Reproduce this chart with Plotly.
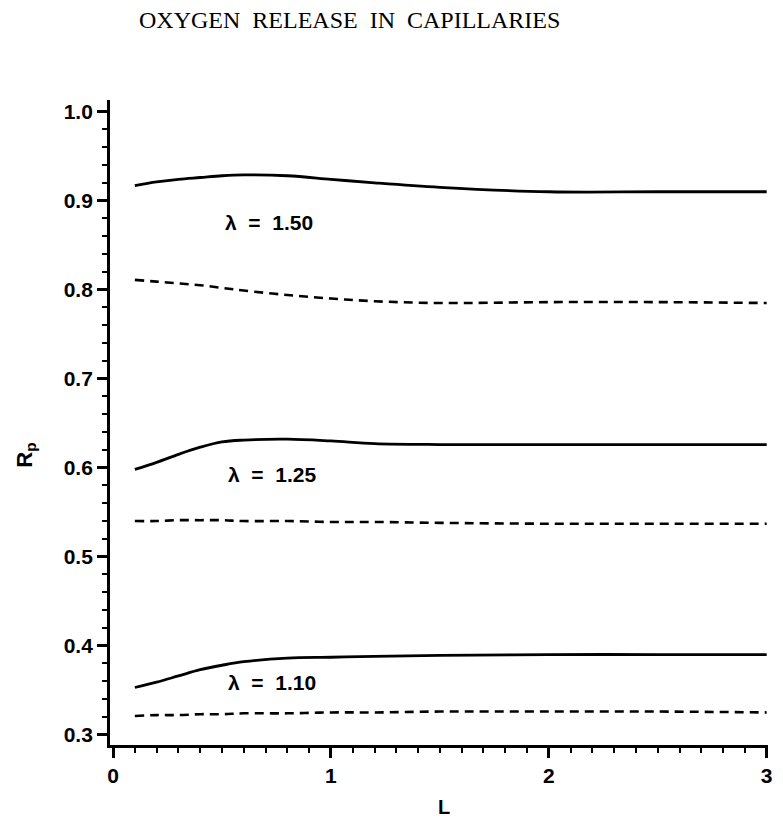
import plotly.graph_objects as go

L = [0.1, 0.2, 0.3, 0.4, 0.5, 0.6, 0.8, 1.0, 1.2, 1.5, 2.0, 2.5, 3.0]
solid_150 = [0.917, 0.921, 0.924, 0.926, 0.928, 0.929, 0.928, 0.924, 0.920, 0.915, 0.910, 0.910, 0.910]
dash_150 = [0.811, 0.809, 0.807, 0.805, 0.802, 0.799, 0.794, 0.790, 0.787, 0.785, 0.786, 0.786, 0.785]
solid_125 = [0.598, 0.606, 0.615, 0.623, 0.629, 0.631, 0.632, 0.630, 0.627, 0.626, 0.626, 0.626, 0.626]
dash_125 = [0.540, 0.540, 0.541, 0.541, 0.541, 0.540, 0.540, 0.539, 0.539, 0.538, 0.537, 0.537, 0.537]
solid_110 = [0.353, 0.359, 0.366, 0.373, 0.378, 0.382, 0.386, 0.387, 0.388, 0.389, 0.390, 0.390, 0.390]
dash_110 = [0.321, 0.322, 0.322, 0.323, 0.323, 0.324, 0.324, 0.325, 0.325, 0.326, 0.326, 0.326, 0.325]

labels = ["λ = 1.50", "λ = 1.25", "λ = 1.10"]
label_x = [0.715, 0.731, 0.731]
label_y = [0.875, 0.592, 0.359]
y_ticks = [0.3, 0.4, 0.5, 0.6, 0.7, 0.8, 0.9, 1.0]
x_ticks = [0, 1, 2, 3]

fig = go.Figure()
for ys in [solid_150, solid_125, solid_110]:
    fig.add_trace(go.Scatter(x=L, y=ys, mode="lines", line=dict(color="black", width=2.8, shape="spline"), showlegend=False))
for ys in [dash_150, dash_125, dash_110]:
    fig.add_trace(go.Scatter(x=L, y=ys, mode="lines", line=dict(color="black", width=2.6, shape="spline", dash="9px,6px"), showlegend=False))

for t, x, y in zip(labels, label_x, label_y):
    fig.add_annotation(x=x, y=y, text=t.replace(" ", "\u00a0\u00a0"), showarrow=False, xref="x", yref="y",
                       font=dict(family="Liberation Sans", size=21, color="black", weight="bold"))

fig.add_annotation(x=0.5, y=1, xref="paper", yref="paper", xanchor="center", yanchor="middle",
                   text="OXYGEN\u00a0\u00a0RELEASE\u00a0\u00a0IN\u00a0\u00a0CAPILLARIES", showarrow=False,
                   yshift=80, xshift=-90,
                   font=dict(family="Liberation Serif", size=24, color="black"))
fig.add_annotation(x=(447-110)/663, y=-(807-745)/645, xref="paper", yref="paper", text="L",
                   showarrow=False, xanchor="center", yanchor="middle",
                   font=dict(family="Liberation Sans", size=20, color="black", weight="bold"))
fig.add_annotation(x=-(110-25)/663, y=(745-455)/645, xref="paper", yref="paper",
                   text="R<sub>p</sub>",
                   showarrow=False, textangle=-90, xanchor="center", yanchor="middle",
                   font=dict(family="Liberation Sans", size=22, color="black", weight="bold"))

axis_font = dict(family="Liberation Sans", size=21, color="black", weight="bold")
fig.update_xaxes(range=[-0.014, 3.006], tickvals=x_ticks, ticktext=[str(v) for v in x_ticks],
                 showline=True, linecolor="black", linewidth=2.8, ticks="outside", ticklen=10,
                 tickwidth=2.5, tickcolor="black", showgrid=False, zeroline=False, tickfont=axis_font,
                 minor=dict(dtick=0.1, tick0=0, ticks="outside", ticklen=5, tickwidth=2, tickcolor="black", showgrid=False))
fig.update_yaxes(range=[0.2884, 1.0131], tickvals=y_ticks, ticktext=[f"{v:.1f}" for v in y_ticks],
                 showline=True, linecolor="black", linewidth=2.8, ticks="outside", ticklen=10,
                 tickwidth=2.5, tickcolor="black", showgrid=False, zeroline=False, tickfont=axis_font,
                 minor=dict(dtick=0.02, tick0=0, ticks="outside", ticklen=5, tickwidth=2, tickcolor="black", showgrid=False))
fig.update_layout(width=783, height=819, margin=dict(l=110, r=10, t=100, b=74),
                  plot_bgcolor="white", paper_bgcolor="white")
fig.write_html("out.html")
